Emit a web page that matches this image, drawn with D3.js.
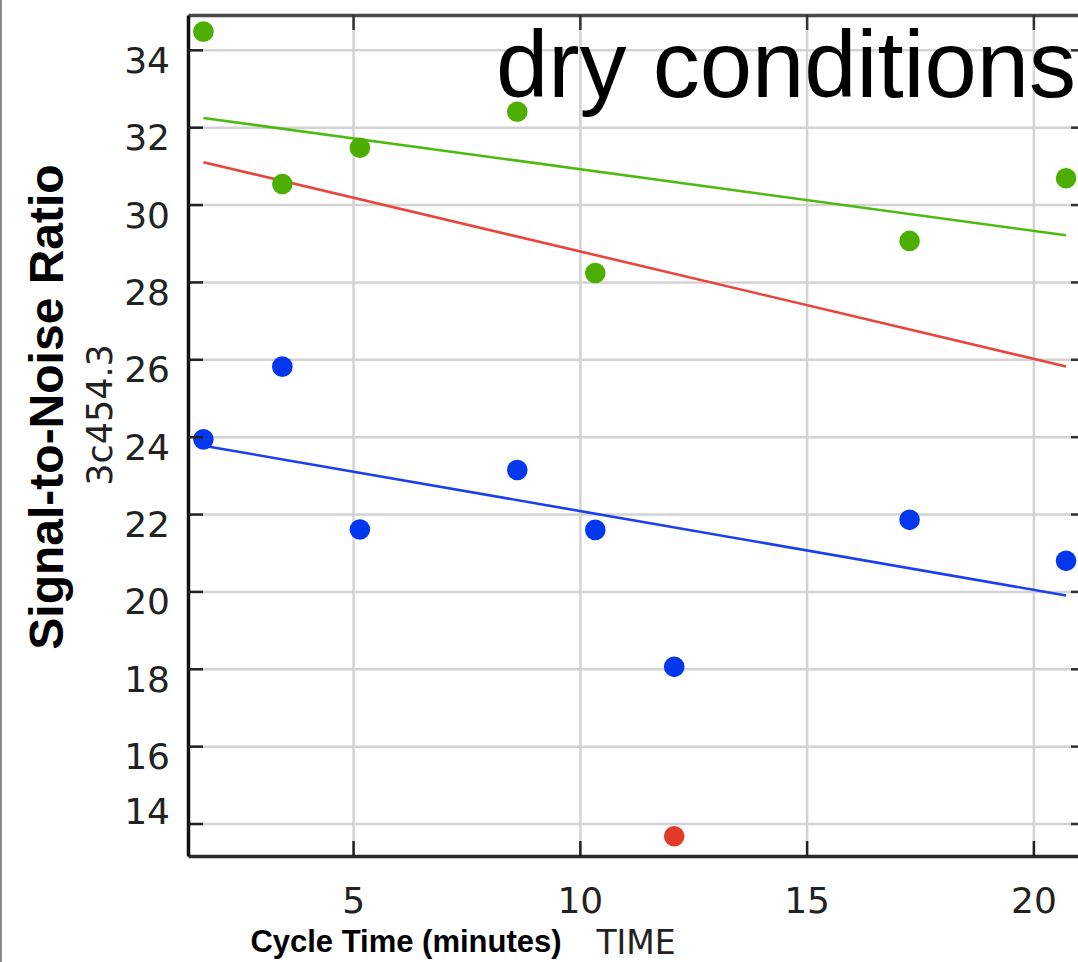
<!DOCTYPE html>
<html>
<head>
<meta charset="utf-8">
<script src="https://cdn.jsdelivr.net/npm/d3@7"></script>
<style>
  html, body { margin: 0; padding: 0; background: #fff; }
  svg { display: block; }
</style>
</head>
<body>
<svg id="chart" width="1078" height="962"></svg>
<script>
// Cycle times (minutes) shared by both sets of measurements
const cycleTime = [1.70, 3.44, 5.15, 8.62, 10.34, 12.08, 17.27, 20.72];
// Signal-to-noise ratio, upper set; the 12.08-minute value is flagged as an outlier
const snrUpper = [34.47, 30.53, 31.47, 32.40, 28.23, 13.67, 29.06, 30.68];
const outlierIndex = [5];
// Signal-to-noise ratio, lower set
const snrLower = [23.93, 25.81, 21.60, 23.14, 21.59, 18.05, 21.85, 20.79];

const xTicks = [5, 10, 15, 20];
const yTicks = [14, 16, 18, 20, 22, 24, 26, 28, 30, 32, 34];

const colors = {
  upper: "#4cae00",
  upperFit: "#4cbb10",
  outlier: "#e33a2c",
  outlierFit: "#e8453b",
  lower: "#0337ee",
  lowerFit: "#1a3ff0"
};

const svg = d3.select("#chart");
const plot = { left: 188, top: 15, right: 1086, bottom: 856 };

const x = d3.scaleLinear().domain([1.36, 21.16]).range([plot.left, plot.right]);
const y = d3.scaleLinear().domain([13.16, 34.9]).range([plot.bottom, plot.top]);

// least-squares straight line through a set of points
function linearFit(xs, ys) {
  const n = xs.length;
  const mx = d3.mean(xs), my = d3.mean(ys);
  let sxy = 0, sxx = 0;
  for (let i = 0; i < n; i++) {
    sxy += (xs[i] - mx) * (ys[i] - my);
    sxx += (xs[i] - mx) * (xs[i] - mx);
  }
  const slope = sxy / sxx;
  const x0 = d3.min(xs), x1 = d3.max(xs);
  return [[x0, my + slope * (x0 - mx)], [x1, my + slope * (x1 - mx)]];
}

// thin frame line on the left edge
svg.append("line")
  .attr("x1", 1).attr("x2", 1).attr("y1", 0).attr("y2", 962)
  .attr("stroke", "#8a8a8a").attr("stroke-width", 2);

// grid
svg.append("g")
  .attr("transform", `translate(0,${plot.bottom})`)
  .call(d3.axisBottom(x).tickValues(xTicks).tickSize(-(plot.bottom - plot.top)).tickFormat(""))
  .call(g => g.select(".domain").remove())
  .call(g => g.selectAll("line").attr("stroke", "#d3d3d3").attr("stroke-width", 2.5));
svg.append("g")
  .attr("transform", `translate(${plot.left},0)`)
  .call(d3.axisLeft(y).tickValues(yTicks).tickSize(-(plot.right - plot.left)).tickFormat(""))
  .call(g => g.select(".domain").remove())
  .call(g => g.selectAll("line").attr("stroke", "#d3d3d3").attr("stroke-width", 2.5));

// fitted trend lines
const keep = cycleTime.map((_, i) => !outlierIndex.includes(i));
const fits = [
  { pts: linearFit(cycleTime, snrUpper), color: colors.outlierFit },
  { pts: linearFit(cycleTime.filter((_, i) => keep[i]), snrUpper.filter((_, i) => keep[i])), color: colors.upperFit },
  { pts: linearFit(cycleTime, snrLower), color: colors.lowerFit }
];
const line = d3.line().x(d => x(d[0])).y(d => y(d[1]));
svg.append("g").selectAll("path")
  .data(fits).join("path")
  .attr("d", d => line(d.pts))
  .attr("fill", "none")
  .attr("stroke", d => d.color)
  .attr("stroke-width", 2.6);

// points
svg.append("g").selectAll("circle")
  .data(cycleTime.map((t, i) => ({ t, v: snrLower[i] }))).join("circle")
  .attr("cx", d => x(d.t)).attr("cy", d => y(d.v)).attr("r", 10.3)
  .attr("fill", colors.lower);
svg.append("g").selectAll("circle")
  .data(cycleTime.map((t, i) => ({ t, v: snrUpper[i], out: outlierIndex.includes(i) }))).join("circle")
  .attr("cx", d => x(d.t)).attr("cy", d => y(d.v)).attr("r", 10.3)
  .attr("fill", d => d.out ? colors.outlier : colors.upper);

// axes with inward ticks
const tickFont = g => g.selectAll("text")
  .attr("font-family", "'DejaVu Sans', sans-serif")
  .attr("font-size", 36)
  .attr("fill", "#222");

svg.append("g")
  .attr("transform", `translate(0,${plot.top})`)
  .call(d3.axisTop(x).tickValues(xTicks).tickSize(-15).tickSizeOuter(0).tickFormat(""))
  .call(g => g.select(".domain").attr("stroke", "#4a4a4a").attr("stroke-width", 3.5))
  .call(g => g.selectAll("line").attr("stroke", "#333").attr("stroke-width", 2.5));

svg.append("g")
  .attr("transform", `translate(${plot.right},0)`)
  .call(d3.axisRight(y).tickValues(yTicks).tickSize(-15).tickSizeOuter(0).tickFormat(""))
  .call(g => g.select(".domain").attr("stroke", "#333").attr("stroke-width", 3))
  .call(g => g.selectAll("line").attr("stroke", "#333").attr("stroke-width", 2.5));

svg.append("g")
  .attr("transform", `translate(0,${plot.bottom})`)
  .call(d3.axisBottom(x).tickValues(xTicks).tickSize(-15).tickSizeOuter(0).tickPadding(0))
  .call(g => g.select(".domain").attr("stroke", "#2a2a2a").attr("stroke-width", 3.5))
  .call(g => g.selectAll("line").attr("stroke", "#222").attr("stroke-width", 2.5))
  .call(tickFont)
  .call(g => g.selectAll("text").attr("y", 57).attr("dy", 0));

svg.append("g")
  .attr("transform", `translate(${plot.left},0)`)
  .call(d3.axisLeft(y).tickValues(yTicks).tickSize(-15).tickSizeOuter(0).tickPadding(18))
  .call(g => g.select(".domain").attr("stroke", "#111").attr("stroke-width", 3.5))
  .call(g => g.selectAll("line").attr("stroke", "#222").attr("stroke-width", 2.5))
  .call(tickFont)
  // labels sit just below their ticks, kept clear of the bottom axis
  .call(g => g.selectAll("text")
    .attr("dy", 0)
    .attr("y", d => Math.min(22.5, plot.bottom - 33 - y(d))));

// axis titles
svg.append("text")
  .attr("x", 406).attr("y", 952)
  .attr("text-anchor", "middle")
  .attr("font-family", "'Liberation Sans', Arial, sans-serif")
  .attr("font-weight", "bold")
  .attr("font-size", 31)
  .attr("fill", "#000")
  .text("Cycle Time (minutes)");

svg.append("text")
  .attr("x", 636).attr("y", 954)
  .attr("text-anchor", "middle")
  .attr("font-family", "'DejaVu Sans', sans-serif")
  .attr("font-size", 33)
  .attr("fill", "#222")
  .text("TIME");

svg.append("text")
  .attr("transform", "translate(63,407) rotate(-90)")
  .attr("text-anchor", "middle")
  .attr("font-family", "'Liberation Sans', Arial, sans-serif")
  .attr("font-weight", "bold")
  .attr("font-size", 48)
  .attr("fill", "#000")
  .text("Signal-to-Noise Ratio");

svg.append("text")
  .attr("transform", "translate(112,415) rotate(-90)")
  .attr("text-anchor", "middle")
  .attr("font-family", "'DejaVu Sans', sans-serif")
  .attr("font-size", 35)
  .attr("fill", "#222")
  .text("3c454.3");

// condition label
svg.append("text")
  .attr("x", 496).attr("y", 97)
  .attr("font-family", "'Liberation Sans', Arial, sans-serif")
  .attr("font-size", 94)
  .attr("fill", "#000")
  .text("dry conditions");
</script>
</body>
</html>
